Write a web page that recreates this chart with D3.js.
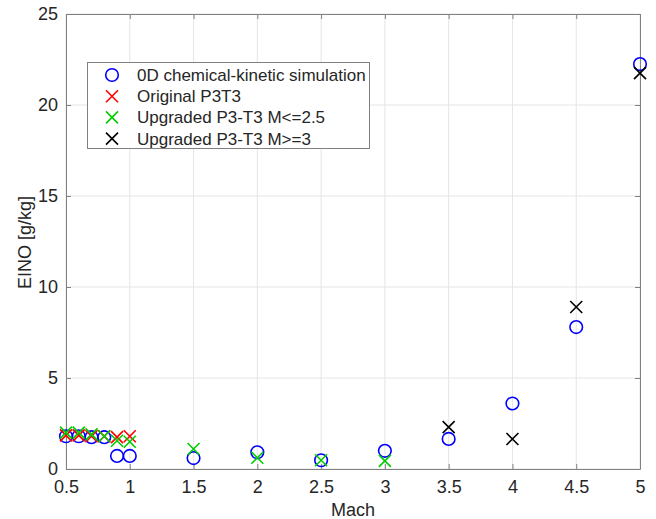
<!DOCTYPE html>
<html>
<head>
<meta charset="utf-8">
<script src="https://d3js.org/d3.v7.min.js"></script>
<style>
  body { margin: 0; background: #fff; }
  text { font-family: "Liberation Sans", Arial, sans-serif; fill: #262626; }
</style>
</head>
<body>
<div id="chart"></div>
<script>
// data
var machSim = [0.5, 0.6, 0.7, 0.8, 0.9, 1.0, 1.5, 2, 2.5, 3, 3.5, 4, 4.5, 5];
var einoSim = [1.8, 1.8, 1.75, 1.75, 0.72, 0.72, 0.6, 0.92, 0.48, 1.0, 1.65, 3.6, 7.8, 22.25];

var machOrig = [0.5, 0.6, 0.7, 0.8, 0.9, 1.0];
var einoOrig = [1.85, 1.85, 1.8, 1.8, 1.75, 1.8];

var machLow = [0.5, 0.6, 0.7, 0.8, 0.9, 1.0, 1.5, 2, 2.5, 3];
var einoLow = [2.0, 2.0, 1.9, 1.8, 1.55, 1.5, 1.1, 0.62, 0.48, 0.45];

var machHigh = [3.5, 4, 4.5, 5];
var einoHigh = [2.3, 1.65, 8.9, 21.75];

var xTicks = [0.5, 1, 1.5, 2, 2.5, 3, 3.5, 4, 4.5, 5];
var yTicks = [0, 5, 10, 15, 20, 25];

var legendLabels = ["0D chemical-kinetic simulation", "Original P3T3",
                    "Upgraded P3-T3 M<=2.5", "Upgraded P3-T3 M>=3"];

var width = 656, height = 519;
var margin = {left: 66, right: 16, top: 14, bottom: 50};

var svg = d3.select("#chart").append("svg")
    .attr("width", width)
    .attr("height", height);

var x = d3.scaleLinear().domain([0.5, 5]).range([margin.left, width - margin.right]);
var y = d3.scaleLinear().domain([0, 25]).range([height - margin.bottom, margin.top]);
var fmt = d3.format("~g");

// grid
svg.append("g").selectAll("line.gx").data(xTicks).enter().append("line")
    .attr("x1", d => x(d)).attr("x2", d => x(d))
    .attr("y1", y(0)).attr("y2", y(25))
    .attr("stroke", "#e5e5e5").attr("stroke-width", 1);
svg.append("g").selectAll("line.gy").data(yTicks).enter().append("line")
    .attr("y1", d => y(d)).attr("y2", d => y(d))
    .attr("x1", x(0.5)).attr("x2", x(5))
    .attr("stroke", "#e5e5e5").attr("stroke-width", 1);

// axes (matlab style: box with inward ticks)
var axColor = "#808080";
var xAxis = svg.append("g").attr("transform", "translate(0," + y(0) + ")")
    .call(d3.axisBottom(x).tickValues(xTicks).tickFormat(fmt).tickSizeInner(-5).tickSizeOuter(0).tickPadding(11));
var yAxis = svg.append("g").attr("transform", "translate(" + x(0.5) + ",0)")
    .call(d3.axisLeft(y).tickValues(yTicks).tickFormat(fmt).tickSizeInner(-5).tickSizeOuter(0).tickPadding(8));
var xTop = svg.append("g").attr("transform", "translate(0," + y(25) + ")")
    .call(d3.axisTop(x).tickValues(xTicks).tickSizeInner(-5).tickSizeOuter(0).tickFormat(""));
var yRight = svg.append("g").attr("transform", "translate(" + x(5) + ",0)")
    .call(d3.axisRight(y).tickValues(yTicks).tickSizeInner(-5).tickSizeOuter(0).tickFormat(""));

[xAxis, yAxis, xTop, yRight].forEach(function(g) {
  g.selectAll("path, line").attr("stroke", axColor);
  g.selectAll("text").style("font-size", "18px")
    .style("font-family", "'Liberation Sans', Arial, sans-serif").attr("fill", "#262626");
});

svg.append("text")
    .attr("x", (x(0.5) + x(5)) / 2).attr("y", 516)
    .attr("text-anchor", "middle").style("font-size", "18px")
    .text("Mach");
svg.append("text")
    .attr("transform", "translate(31," + (y(12.5) + 1) + ") rotate(-90)")
    .attr("text-anchor", "middle").style("font-size", "18px")
    .text("EINO [g/kg]");

// markers
function circles(xs, ys, color) {
  svg.append("g").selectAll("circle").data(xs).enter().append("circle")
      .attr("cx", (d) => x(d)).attr("cy", (d, i) => y(ys[i]))
      .attr("r", 6.3).attr("fill", "none")
      .attr("stroke", color).attr("stroke-width", 1.6);
}
function crosses(xs, ys, color) {
  var s = 6;
  svg.append("g").selectAll("path").data(xs).enter().append("path")
      .attr("d", function(d, i) {
        var cx = x(d), cy = y(ys[i]);
        return "M" + (cx - s) + "," + (cy - s) + "L" + (cx + s) + "," + (cy + s) +
               "M" + (cx - s) + "," + (cy + s) + "L" + (cx + s) + "," + (cy - s);
      })
      .attr("fill", "none").attr("stroke", color).attr("stroke-width", 1.6);
}

circles(machSim, einoSim, "#0000ff");
crosses(machOrig, einoOrig, "#ff0000");
crosses(machLow, einoLow, "#00cc00");
crosses(machHigh, einoHigh, "#000000");

// legend
var lg = svg.append("g");
lg.append("rect").attr("x", 87.5).attr("y", 62.5).attr("width", 282).attr("height", 86)
    .attr("fill", "#fff").attr("stroke", "#808080").attr("stroke-width", 1);
var legendColors = ["#0000ff", "#ff0000", "#00cc00", "#000000"];
legendLabels.forEach(function(lab, i) {
  var ly = 75 + i * 21.2;
  if (i === 0) {
    lg.append("circle").attr("cx", 112).attr("cy", ly).attr("r", 6.3)
      .attr("fill", "none").attr("stroke", legendColors[i]).attr("stroke-width", 1.6);
  } else {
    var s = 6;
    lg.append("path")
      .attr("d", "M" + (112 - s) + "," + (ly - s) + "L" + (112 + s) + "," + (ly + s) +
                 "M" + (112 - s) + "," + (ly + s) + "L" + (112 + s) + "," + (ly - s))
      .attr("stroke", legendColors[i]).attr("stroke-width", 1.6).attr("fill", "none");
  }
  lg.append("text").attr("x", 137).attr("y", ly + 6).style("font-size", "17px").text(lab);
});
</script>
</body>
</html>
